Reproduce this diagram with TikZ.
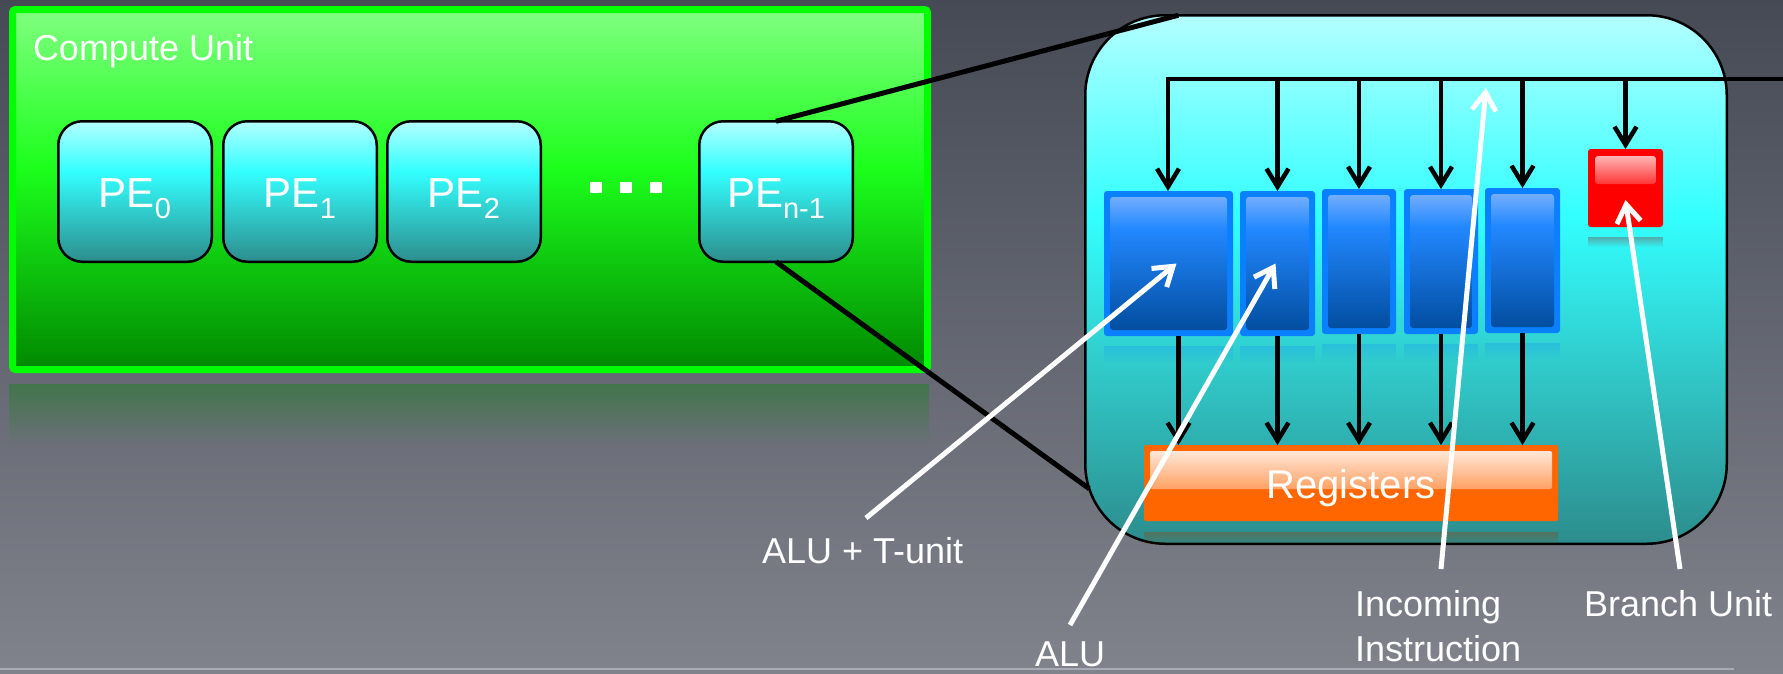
\documentclass[tikz,border=0pt]{standalone}
\usepackage{fontspec}
\setmainfont{Liberation Sans}
\usetikzlibrary{arrows.meta,fadings,calc}

\definecolor{bgtop}{HTML}{464A55}
\definecolor{bgbot}{HTML}{80838C}
\definecolor{sepcol}{HTML}{A8ABB1}
\definecolor{cuedge}{HTML}{00FF00}
\definecolor{cutop}{HTML}{80FF80}
\definecolor{cumid}{HTML}{1CFF1C}
\definecolor{cubot}{HTML}{008800}
\definecolor{petop}{HTML}{B3FFFF}
\definecolor{pemid}{HTML}{33FFFF}
\definecolor{pebot}{HTML}{2D8C8C}
\definecolor{aluedge}{HTML}{0A80FF}
\definecolor{alutop}{HTML}{80B4FF}
\definecolor{alumid}{HTML}{2288FF}
\definecolor{alubot}{HTML}{004A9A}
\definecolor{brred}{HTML}{FF0000}
\definecolor{brhi}{HTML}{FFD4D4}
\definecolor{regorange}{HTML}{FF6600}
\definecolor{reghi}{HTML}{FFF2EA}

% vertical shadings: the 25bp..75bp band is fitted to the shaded path
\pgfdeclareverticalshading{cushade}{100bp}{color(0bp)=(cubot); color(25bp)=(cubot); color(53bp)=(cumid); color(75bp)=(cutop); color(100bp)=(cutop)}
\pgfdeclareverticalshading{peshade}{100bp}{color(0bp)=(pebot); color(25bp)=(pebot); color(57bp)=(pemid); color(75bp)=(petop); color(100bp)=(petop)}
\pgfdeclareverticalshading{bigshade}{100bp}{color(0bp)=(pebot); color(25bp)=(pebot); color(56bp)=(pemid); color(75bp)=(petop); color(100bp)=(petop)}
\pgfdeclareverticalshading{alushade}{100bp}{color(0bp)=(alubot); color(25bp)=(alubot); color(62bp)=(alumid); color(75bp)=(alutop); color(100bp)=(alutop)}
\pgfdeclareverticalshading{brshade}{100bp}{color(0bp)=(brred); color(25bp)=(brred); color(45bp)=(brred); color(75bp)=(brhi); color(100bp)=(brhi)}

\tikzfading[name=fadedown, top color=transparent!0, bottom color=transparent!100]

\newcommand\pesub[1]{\raisebox{-11pt}{\fontsize{29}{30}\selectfont #1}}

\begin{document}
\begin{tikzpicture}[x=1pt,y=-1pt,
  cubox/.style={draw=cuedge, line width=7pt, rounded corners=3pt, shade, shading=cushade, inner sep=0pt, outer sep=0pt},
  pebox/.style={draw=black, line width=2.5pt, rounded corners=24pt, shade, shading=peshade,
    minimum width=153.5pt, minimum height=140.5pt, inner sep=0pt, outer sep=0pt},
  bigbox/.style={draw=black, line width=2.5pt, rounded corners=80pt, shade, shading=bigshade, inner sep=0pt, outer sep=0pt},
  alubox/.style={fill=aluedge, rounded corners=3pt, inner sep=0pt, outer sep=0pt,
    path picture={\shade[shading=alushade] ([shift={(6pt,6pt)}]path picture bounding box.south west) rectangle ([shift={(-6pt,-6pt)}]path picture bounding box.north east);}},
  brbox/.style={fill=brred, rounded corners=3pt, inner sep=0pt, outer sep=0pt,
    path picture={\shade[shading=brshade] ([shift={(7pt,-7pt)}]path picture bounding box.north west) rectangle ([shift={(-7pt,-35pt)}]path picture bounding box.north east);}},
  regbox/.style={fill=regorange, rounded corners=2pt, inner sep=0pt, outer sep=0pt,
    path picture={\shade[top color=reghi, bottom color=regorange] ([shift={(6pt,-6pt)}]path picture bounding box.north west) rectangle ([shift={(-6pt,-44pt)}]path picture bounding box.north east);}},
  lbl/.style={text=white, font=\fontsize{36}{43}\selectfont, inner sep=0pt, outer sep=0pt},
  pelbl/.style={text=white, font=\fontsize{42}{50}\selectfont, inner sep=0pt, outer sep=0pt, anchor=base},
  reglbl/.style={text=white, font=\fontsize{40}{48}\selectfont, inner sep=0pt, outer sep=0pt, anchor=base},
  zoomline/.style={draw=black, line width=5pt},
  blkarrow/.style={draw=black, line width=4.5pt, line join=miter, -{Straight Barb[length=18pt,width=22pt]}},
  wharrow/.style={draw=white, line width=5pt, -{Straight Barb[length=18pt,width=24pt]}},
  reflect/.style={opacity=#1, path fading=fadedown}
]
\useasboundingbox (0,0) rectangle (1783,673);

% backdrop
\shade[top color=bgtop, bottom color=bgbot] (0,0) rectangle (1783,673);
\draw[sepcol, line width=1.5pt] (0,669) -- (1734,669);

% compute unit
\fill[cuedge!55!black, reflect=.35] (10,384) rectangle (931,445);
\node[cubox, minimum width=915pt, minimum height=360pt] (cu) at (470,189.5) {};
\node[lbl, anchor=base west] (cutitle) at (33,60) {Compute Unit};

% processing elements
\node[pebox] (pe0) at (135,191.5) {};
\node[pebox] (pe1) at (300,191.5) {};
\node[pebox] (pe2) at (464,191.5) {};
\node[pebox] (pen) at (776,191.5) {};
\node[pelbl] (pe0lbl) at ([yshift=-15.5pt]pe0.center) {PE\pesub{0}};
\node[pelbl] (pe1lbl) at ([yshift=-15.5pt]pe1.center) {PE\pesub{1}};
\node[pelbl] (pe2lbl) at ([yshift=-15.5pt]pe2.center) {PE\pesub{2}};
\node[pelbl] (penlbl) at ([yshift=-15.5pt]pen.center) {PE\pesub{n-1}};
\fill[white] (590,182) rectangle (602,193);
\fill[white] (620,182) rectangle (632,193);
\fill[white] (650,182) rectangle (662,193);

% enlarged processing element
\node[bigbox, minimum width=641.5pt, minimum height=528.5pt] (pebig) at (1406,279.5) {};
\draw[zoomline] (pen.north) -- ([xshift=93pt]pebig.north west);
\draw[zoomline] (pen.south) -- ($(pebig.south west)+(4pt,55pt)$);

% execution units
\node[alubox, minimum width=129pt, minimum height=145pt] (alu1) at (1168.5,263.5) {};
\node[alubox, minimum width=75pt, minimum height=145pt] (alu2) at (1277.5,263.5) {};
\node[alubox, minimum width=74pt, minimum height=145pt] (alu3) at (1359,261.5) {};
\node[alubox, minimum width=74pt, minimum height=145pt] (alu4) at (1441,261.5) {};
\node[alubox, minimum width=75pt, minimum height=145pt] (alu5) at (1522.5,260.5) {};
\node[brbox, minimum width=75pt, minimum height=78pt] (br) at (1625.5,188) {};
\node[regbox, minimum width=414pt, minimum height=76pt] (reg) at (1351,483) {};
\node[reglbl] (reglbl) at ([yshift=-15pt]reg.center) {Registers};

\foreach \b in {alu1,alu2,alu3,alu4,alu5}
  \fill[aluedge, reflect=.22] ([yshift=-10pt]\b.south west) rectangle ([yshift=-27pt]\b.south east);
\fill[brred!60!black, reflect=.3] ([yshift=-10pt]br.south west) rectangle ([yshift=-20pt]br.south east);
\fill[regorange!60!black, reflect=.35] ([yshift=-11pt]reg.south west) rectangle ([yshift=-24pt]reg.south east);

% instruction bus
\coordinate (busL) at (1168,79);
\coordinate (busR) at (1783,79);
\draw[blkarrow] (busR) -- (busL) -- (busL |- alu1.north);
\foreach \b in {alu2,alu3,alu4,alu5,br}
  \draw[blkarrow] (\b.north |- busL) -- (\b.north);

% results into the register file
\draw[blkarrow] ([xshift=10pt]alu1.south) -- ([xshift=10pt]alu1.south |- reg.north);
\foreach \b in {alu2,alu3,alu4,alu5}
  \draw[blkarrow] (\b.south) -- (\b.south |- reg.north);

% callouts
\node[lbl, anchor=base west] (lalut) at (762,563) {ALU + T-unit};
\node[lbl, anchor=base west] (lalu) at (1035,666) {ALU};
\node[lbl, anchor=base west] (linc) at (1355,616) {Incoming};
\node[lbl, anchor=base west] (lins) at (1355,661) {Instruction};
\node[lbl, anchor=base west] (lbr) at (1584,616) {Branch Unit};

\coordinate (talut) at (866,518);
\coordinate (talu) at (1070,625);
\coordinate (tinc) at (1441,569);
\coordinate (tbr) at (1680,569);
\coordinate (hinc) at (1486,88);

\draw[wharrow] (talut) -- ([xshift=8pt]alu1.center);
\draw[wharrow] (talu) -- ([xshift=-2pt]alu2.center);
\draw[wharrow] (tinc) -- (hinc);
\draw[wharrow] (tbr) -- ([yshift=-12pt]br.center);
\end{tikzpicture}
\end{document}
